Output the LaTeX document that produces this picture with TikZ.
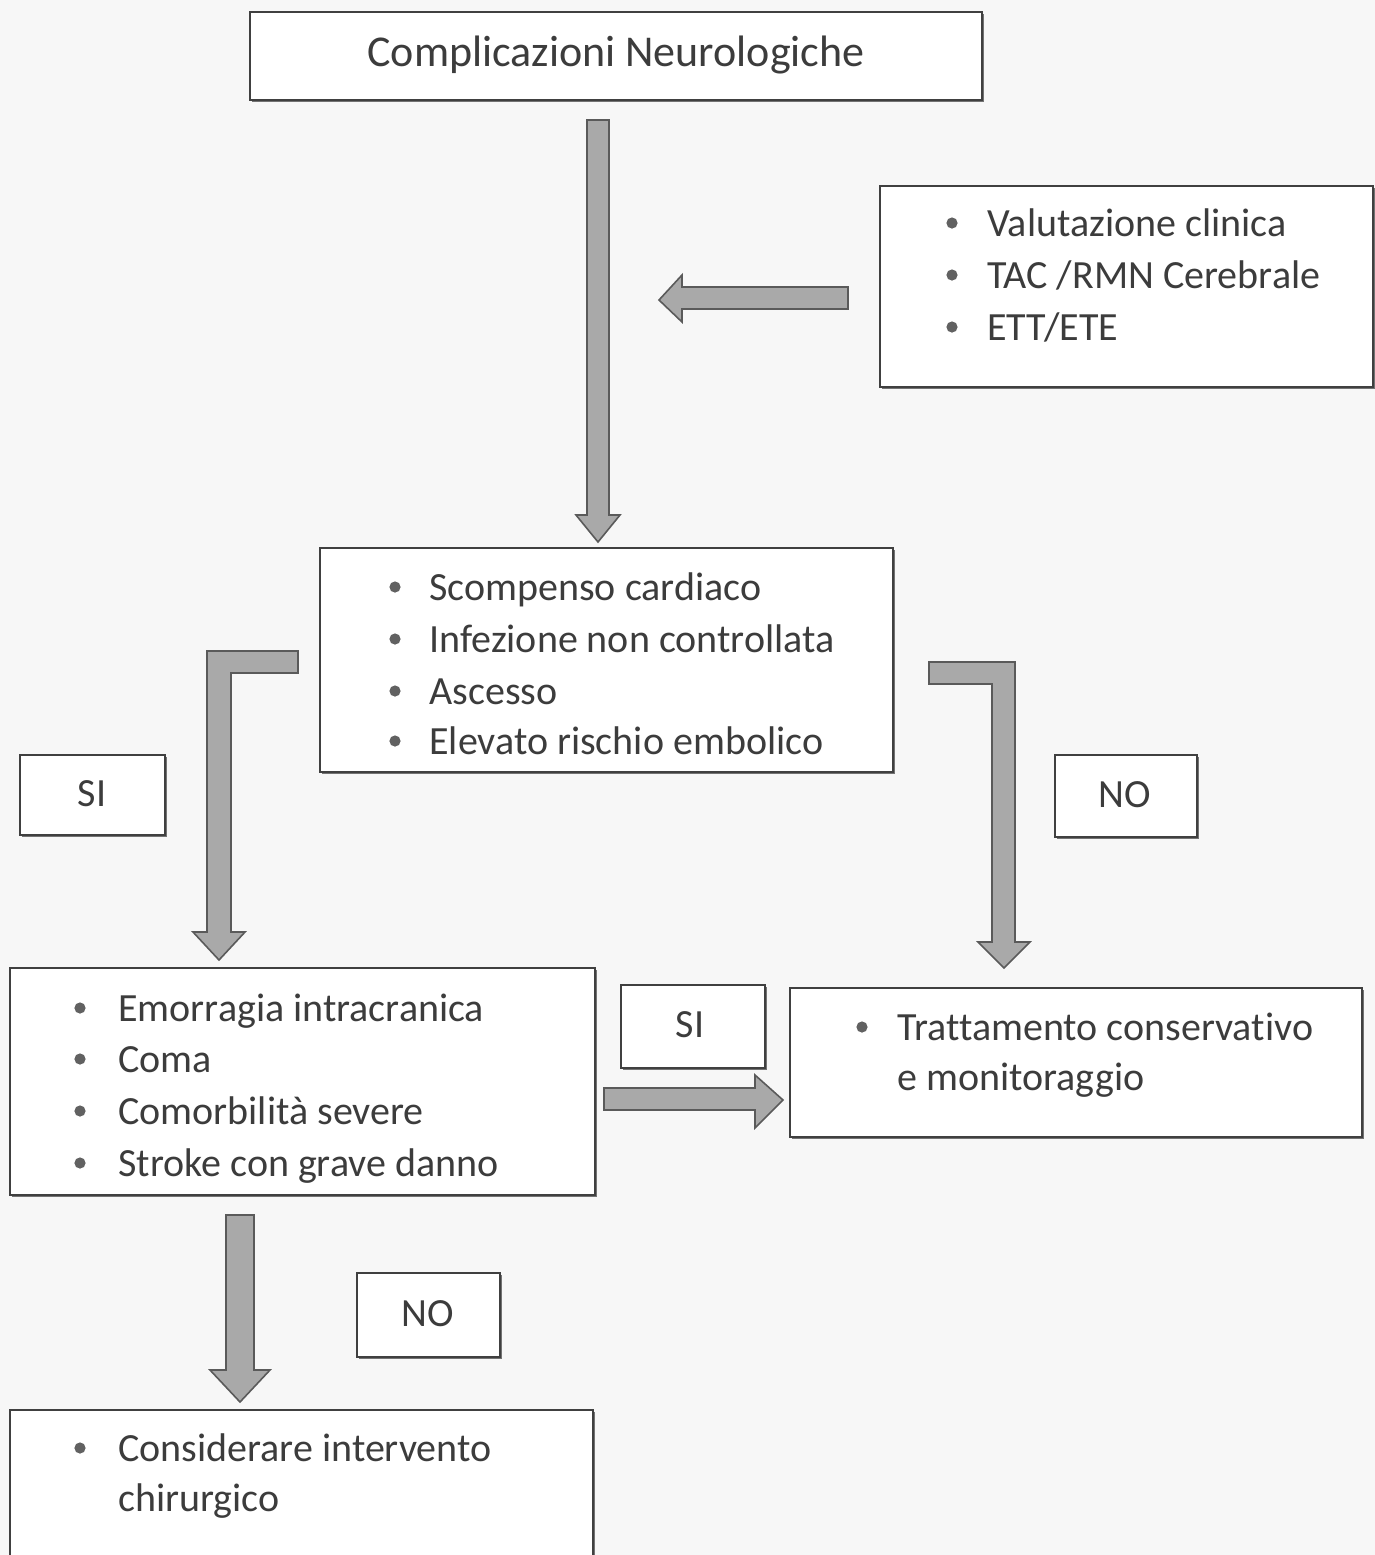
\documentclass[tikz,border=0pt]{standalone}
\usepackage{fontspec}
\setmainfont[Ligatures=CommonOff]{Carlito}
\usetikzlibrary{fit,shadows}
\definecolor{txt}{HTML}{3C3C3C}
\definecolor{afill}{HTML}{A9A9A9}
\definecolor{aline}{HTML}{5A5A5A}
\begin{document}
\begin{tikzpicture}[x=0.5pt,y=-0.5pt,
  box/.style={draw=black!75,line width=0.7pt,fill=white,inner sep=0pt,
    drop shadow={shadow xshift=1.2pt,shadow yshift=-1.2pt,fill=black!55,opacity=1}},
  txt/.style={font=\fontsize{20}{24}\selectfont,text=txt,inner sep=0pt},
  item/.style={txt,anchor=base west},
  bul/.style={circle,fill=black!62,inner sep=0pt,minimum size=5.6pt},
  lbl/.style={txt,anchor=base},
  barrow/.style={fill=afill,draw=aline,line width=0.8pt,line join=miter}]
\useasboundingbox (0,0) rectangle (1375,1555);
\fill[white!97!black] (0,0) rectangle (1375,1555);

% boxes
\node[box,fit={(250,12) (982,100)}] (b1) {};
\node[box,fit={(880,186) (1373,387)}] (b2) {};
\node[box,fit={(320,548) (893,772)}] (b3) {};
\node[box,fit={(20,755) (165,835)}] (si1) {};
\node[box,fit={(1055,755) (1197,837)}] (no1) {};
\node[box,fit={(10,968) (595,1195)}] (b4) {};
\node[box,fit={(621,985) (765,1068)}] (si2) {};
\node[box,fit={(790,988) (1362,1137)}] (b5) {};
\node[box,fit={(357,1273) (500,1357)}] (no2) {};
\node[box,fit={(10,1410) (593,1570)}] (b6) {};

% texts
\node[lbl,font=\fontsize{22}{26}\selectfont] (t1) at (616,66) {Complicazioni Neurologiche};

\node[bul] (b2d1) at (952,223) {};
\node[bul] (b2d2) at (952,275) {};
\node[bul] (b2d3) at (952,327) {};
\node[item] (b2t1) at (987,236) {Valutazione clinica};
\node[item] (b2t2) at (987,288) {TAC /RMN Cerebrale};
\node[item] (b2t3) at (987,340) {ETT/ETE};

\node[bul] (b3d1) at (395,587) {};
\node[bul] (b3d2) at (395,639) {};
\node[bul] (b3d3) at (395,691) {};
\node[bul] (b3d4) at (395,741) {};
\node[item] (b3t1) at (429,600) {Scompenso cardiaco};
\node[item] (b3t2) at (429,652) {Infezione non controllata};
\node[item] (b3t3) at (429,704) {Ascesso};
\node[item] (b3t4) at (429,754) {Elevato rischio embolico};

\node[lbl] (tsi1) at (92,806) {SI};
\node[lbl] (tno1) at (1125,807) {NO};

\node[bul] (b4d1) at (80,1008) {};
\node[bul] (b4d2) at (80,1059) {};
\node[bul] (b4d3) at (80,1111) {};
\node[bul] (b4d4) at (80,1163) {};
\node[item] (b4t1) at (118,1021) {Emorragia intracranica};
\node[item] (b4t2) at (118,1072) {Coma};
\node[item] (b4t3) at (118,1124) {Comorbilità severe};
\node[item] (b4t4) at (118,1176) {Stroke con grave danno};

\node[lbl] (tsi2) at (690,1037) {SI};

\node[bul] (b5d1) at (862,1027) {};
\node[item] (b5t1) at (897,1040) {Trattamento conservativo};
\node[item] (b5t2) at (897,1090) {e monitoraggio};

\node[lbl] (tno2) at (428,1326) {NO};

\node[bul] (b6d1) at (80,1448) {};
\node[item] (b6t1) at (118,1461) {Considerare intervento};
\node[item] (b6t2) at (118,1511) {chirurgico};

% block arrows
\draw[barrow] (587,120) -- (609,120) -- (609,515) -- (620,515) -- (598,542) -- (576,515) -- (587,515) -- cycle;
\draw[barrow] (848,287) -- (682,287) -- (682,275) -- (659,300) -- (682,322) -- (682,309) -- (848,309) -- cycle;
\draw[barrow] (298,651) -- (207,651) -- (207,932) -- (193,932) -- (219,960) -- (245,932) -- (231,932) -- (231,673) -- (298,673) -- cycle;
\draw[barrow] (929,662) -- (1015,662) -- (1015,942) -- (1030,942) -- (1004,968) -- (978,942) -- (992,942) -- (992,684) -- (929,684) -- cycle;
\draw[barrow] (604,1088) -- (755,1088) -- (755,1075) -- (783,1100) -- (755,1128) -- (755,1110) -- (604,1110) -- cycle;
\draw[barrow] (226,1215) -- (254,1215) -- (254,1370) -- (270,1370) -- (240,1402) -- (210,1370) -- (226,1370) -- cycle;
\end{tikzpicture}
\end{document}
